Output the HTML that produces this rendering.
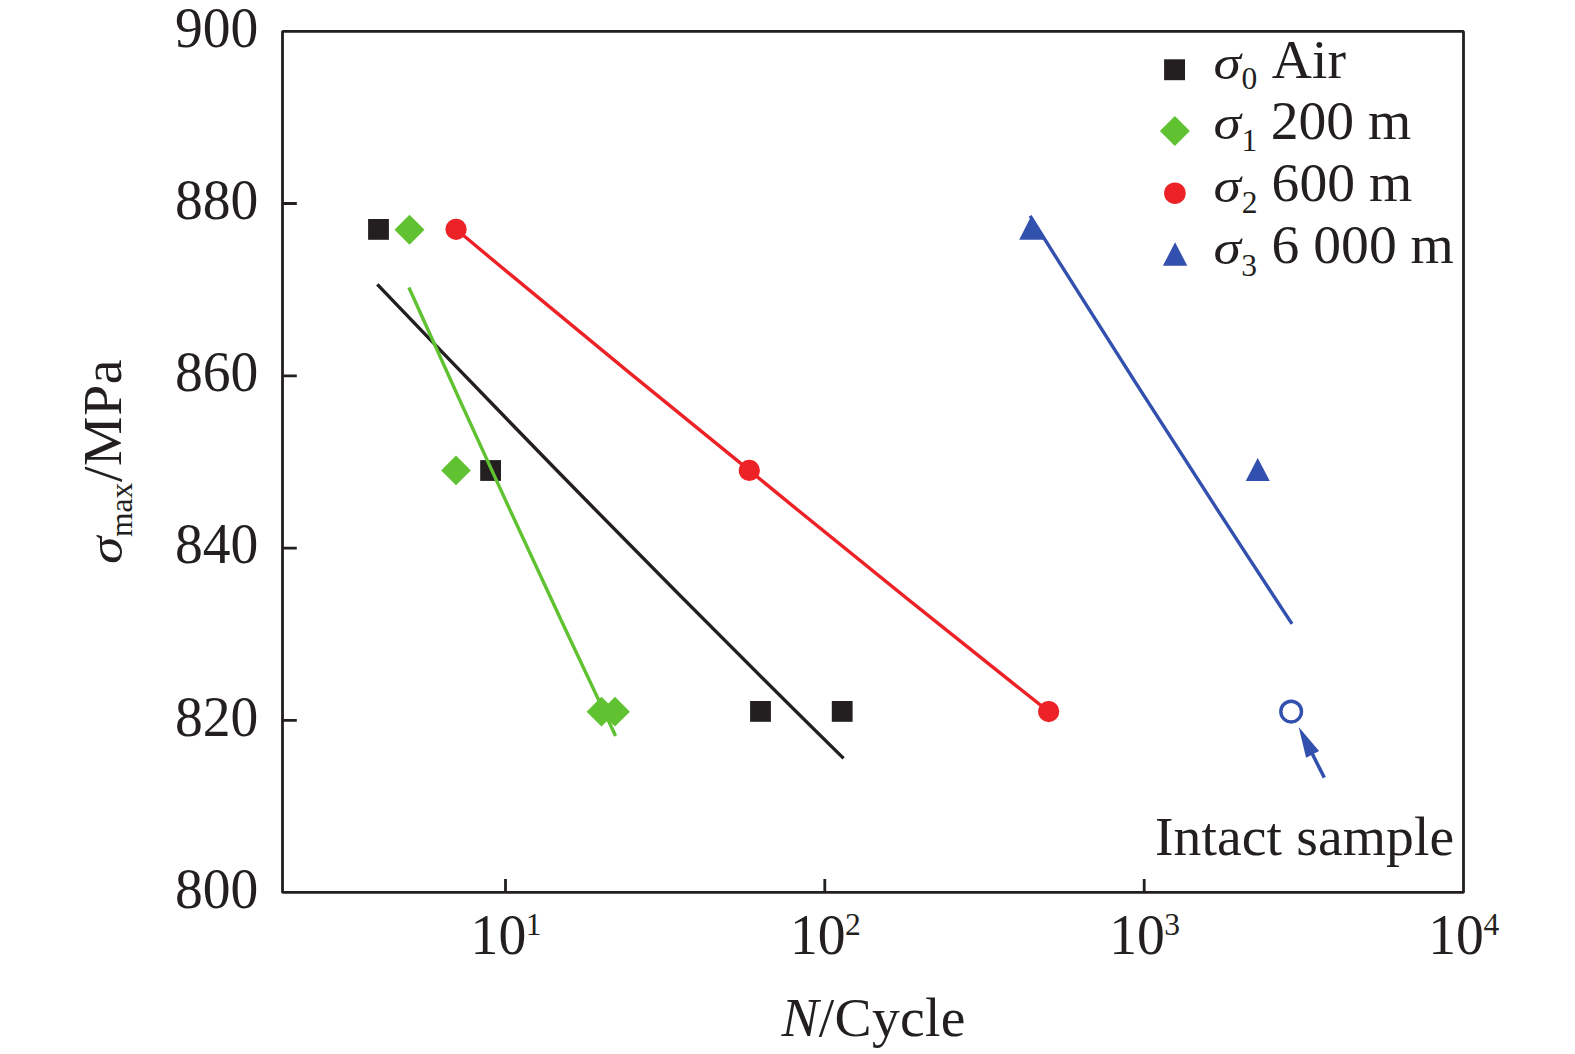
<!DOCTYPE html>
<html lang="en">
<head>
<meta charset="utf-8">
<title>S-N curve</title>
<style>
  html, body { margin: 0; padding: 0; background: #ffffff; }
  body { width: 1575px; height: 1054px; overflow: hidden; }
  svg { display: block; }
  text { font-family: "Liberation Serif", serif; fill: #231f20; }
  .t  { font-size: 55.6px; }
  .s  { font-size: 31.5px; }
  .i  { font-style: italic; }
  .ax { stroke: #231f20; stroke-width: 2.8; fill: none; }
</style>
</head>
<body>
<svg width="1575" height="1054" viewBox="0 0 1575 1054">
  <rect x="0" y="0" width="1575" height="1054" fill="#ffffff"/>

  <!-- frame -->
  <g class="ax">
    <path d="M282.5,31.4 H1463.5 V892.4 H282.5 Z" stroke-linejoin="bevel"/>
    <!-- y ticks -->
    <path d="M282.5,203.5 H296.8 M282.5,375.8 H296.8 M282.5,548.1 H296.8 M282.5,720.4 H296.8"/>
    <!-- x ticks -->
    <path d="M505.5,892.4 V878.9 M824.8,892.4 V878.9 M1144.2,892.4 V878.9"/>
  </g>

  <!-- series: Air (black) -->
  <g fill="#231f20">
    <rect x="368.1" y="219" width="20.8" height="20.8"/>
    <rect x="480.2" y="460.1" width="20.8" height="20.8"/>
    <rect x="750.1" y="701" width="20.8" height="20.8"/>
    <rect x="831.8" y="701" width="20.8" height="20.8"/>
  </g>
  <path d="M377.3,284.3 Q610.45,528.8 843.6,758.4" fill="none" stroke="#231f20" stroke-width="3.4"/>

  <!-- series: 200 m (green) -->
  <g fill="#60c131">
    <path d="M409.5,214.7 L424.5,229.7 L409.5,244.7 L394.5,229.7 Z"/>
    <path d="M456,455.6 L470.8,470.4 L456,485.2 L441.2,470.4 Z"/>
    <path d="M601.5,696.8 L616.4,711.7 L601.5,726.6 L586.6,711.7 Z"/>
    <path d="M615,696.8 L629.9,711.7 L615,726.6 L600.1,711.7 Z"/>
  </g>
  <path d="M408.9,287.5 Q509.9,512.8 615.6,736" fill="none" stroke="#60c131" stroke-width="3.4"/>

  <!-- series: 600 m (red) -->
  <path d="M456.1,229.3 Q602.7,351.9 749.35,470.4 Q899,593.2 1048.7,711.6" fill="none" stroke="#ec2227" stroke-width="3.4"/>
  <g fill="#ec2227">
    <circle cx="456.1" cy="229.3" r="10.6"/>
    <circle cx="749.35" cy="470.4" r="10.6"/>
    <circle cx="1048.7" cy="711.6" r="10.6"/>
  </g>

  <!-- series: 6 000 m (blue) -->
  <path d="M1030.1,215.9 Q1158.8,421.4 1292,623.9" fill="none" stroke="#3250ad" stroke-width="3.4"/>
  <g fill="#3250ad">
    <path d="M1031.5,215.6 L1043.9,239.8 L1019.2,239.8 Z"/>
    <path d="M1257.7,457.9 L1269.8,481.1 L1245.7,481.1 Z"/>
  </g>
  <!-- open circle + arrow -->
  <circle cx="1291.15" cy="711.6" r="10.35" fill="#ffffff" stroke="#3250ad" stroke-width="3.4"/>
  <path d="M1324.3,777.6 L1311,751.3" stroke="#3250ad" stroke-width="3.5" fill="none"/>
  <path d="M1298.7,727 L1319.1,751.1 L1306.1,757.7 Z" fill="#3250ad"/>

  <!-- legend markers -->
  <rect x="1164.1" y="59.3" width="20.9" height="20.9" fill="#231f20"/>
  <path d="M1174.9,115.9 L1189.9,130.9 L1174.9,145.9 L1159.9,130.9 Z" fill="#60c131"/>
  <circle cx="1174.9" cy="193.2" r="10.8" fill="#ec2227"/>
  <path d="M1175.1,242.2 L1187.3,265.8 L1162.9,265.8 Z" fill="#3250ad"/>

  <!-- y tick labels -->
  <g class="t" text-anchor="end">
    <text transform="translate(258.4,46.5) scale(1,1.035)" x="0" y="0">900</text>
    <text transform="translate(258.4,218.6) scale(1,1.035)" x="0" y="0">880</text>
    <text transform="translate(258.4,390.9) scale(1,1.035)" x="0" y="0">860</text>
    <text transform="translate(258.4,563.2) scale(1,1.035)" x="0" y="0">840</text>
    <text transform="translate(258.4,735.5) scale(1,1.035)" x="0" y="0">820</text>
    <text transform="translate(258.4,907.8) scale(1,1.035)" x="0" y="0">800</text>
  </g>

  <!-- x tick labels -->
  <g class="t">
    <text transform="translate(470.6,954.2) scale(1,1.03)" x="0" y="0">10<tspan class="s" dx="-0.4" dy="-18.8">1</tspan></text>
    <text transform="translate(789.9,954.2) scale(1,1.03)" x="0" y="0">10<tspan class="s" dx="-0.4" dy="-18.8">2</tspan></text>
    <text transform="translate(1109.2,954.2) scale(1,1.03)" x="0" y="0">10<tspan class="s" dx="-0.6" dy="-18.8">3</tspan></text>
    <text transform="translate(1428.3,954.2) scale(1,1.03)" x="0" y="0">10<tspan class="s" dx="-0.3" dy="-18.8">4</tspan></text>
  </g>

  <!-- axis titles -->
  <text class="t" x="781.4" y="1035.7" letter-spacing="0.3"><tspan class="i">N</tspan>/Cycle</text>
  <g transform="translate(121.3,563.9) rotate(-90)">
    <text class="t i" transform="translate(0,0.6) scale(1,0.86)" x="0" y="0">σ</text>
    <text class="s" x="27" y="10.2">max</text>
    <text class="t" x="81.8" y="0" letter-spacing="0.7">/MPa</text>
  </g>

  <!-- legend text -->
  <g>
    <text class="t i" transform="translate(1213.4,78.6) scale(1,0.86)">σ</text>
    <text class="s" x="1241.5" y="88.8">0</text>
    <text class="t" x="1271.8" y="78.1">Air</text>

    <text class="t i" transform="translate(1213.4,139.4) scale(1,0.86)">σ</text>
    <text class="s" x="1241.5" y="151">1</text>
    <text class="t" x="1270.7" y="138.8">200 m</text>

    <text class="t i" transform="translate(1213.4,201.5) scale(1,0.86)">σ</text>
    <text class="s" x="1241.8" y="212.9">2</text>
    <text class="t" x="1271.6" y="200.9">600 m</text>

    <text class="t i" transform="translate(1213.4,263.7) scale(1,0.86)">σ</text>
    <text class="s" x="1241.3" y="275.7">3</text>
    <text class="t" x="1271.6" y="263.1">6 000 m</text>
  </g>

  <!-- annotation -->
  <text class="t" x="1155" y="854.5" letter-spacing="0.1">Intact sample</text>
</svg>
</body>
</html>
